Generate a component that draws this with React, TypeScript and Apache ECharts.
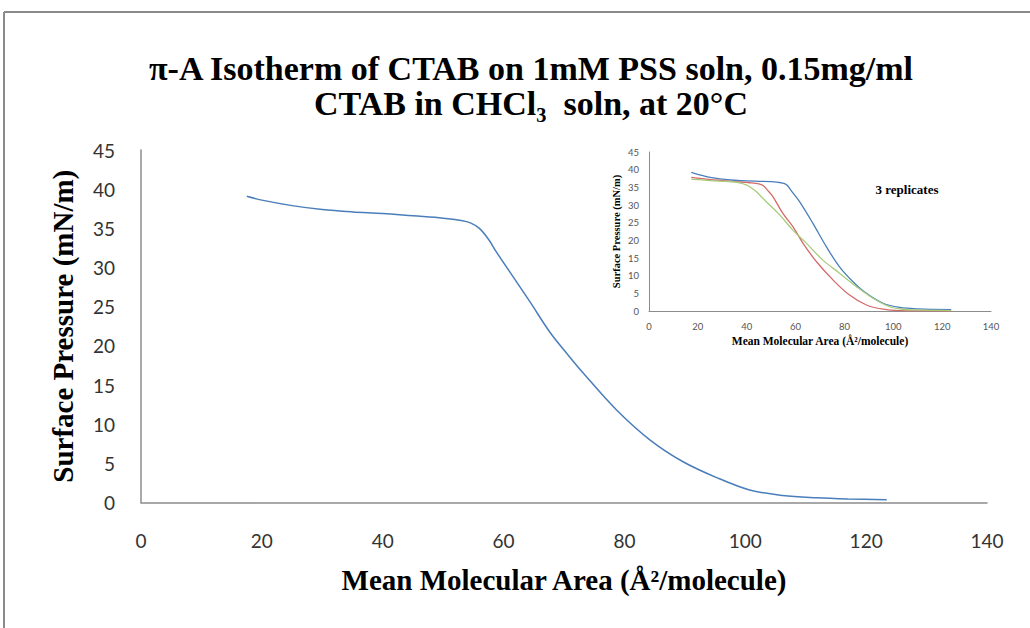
import React, { useEffect, useRef } from "react";
import * as echarts from "echarts";

// Main isotherm (Mean Molecular Area Å²/molecule, Surface Pressure mN/m)
const mainArea = [17.5, 20, 25, 30, 35, 40, 45, 50, 53, 54.5, 56, 57.5, 58.8, 61.5, 64.3, 67.7, 70.5, 73.1, 78.7, 84.2, 89.7, 95.2, 100.7, 106.2, 111.8, 117, 123.4];
const mainPressure = [39.1, 38.6, 37.9, 37.4, 37.1, 36.9, 36.6, 36.3, 36.0, 35.7, 35.0, 33.6, 32.0, 28.9, 25.7, 21.7, 19.0, 16.6, 11.8, 8.0, 5.2, 3.2, 1.6, 0.9, 0.6, 0.45, 0.35];

// Inset: 3 replicates
const rep1Area = [17.3, 20, 25, 30, 35, 40, 45, 50, 54, 56.2, 58.5, 61.7, 67.1, 72.6, 78, 83.5, 89, 95.8, 102.6, 110, 123.7];
const rep1Pressure = [39.2, 38.7, 37.8, 37.3, 37.0, 36.8, 36.7, 36.6, 36.3, 35.8, 33.8, 30.9, 24.8, 18.2, 12.5, 8.3, 5.0, 2.2, 1.0, 0.6, 0.4];
const rep2Area = [17.3, 25, 30, 35, 41.2, 45, 46.7, 48.5, 50.7, 54.8, 58.9, 63, 68.5, 75.3, 82.1, 89, 95.8, 102.6, 110, 123.7];
const rep2Pressure = [37.8, 37.2, 36.9, 36.6, 36.3, 36.0, 35.5, 34.2, 32.4, 27.6, 23.9, 19.2, 14.0, 8.8, 4.5, 1.7, 0.5, 0.1, 0.05, 0.0];
const rep3Area = [17.3, 25, 34.4, 37.5, 39.8, 41.8, 43.9, 48, 53.5, 58.9, 64.4, 71.2, 78, 84.9, 91.7, 98.5, 104, 109.4, 123.7];
const rep3Pressure = [37.3, 36.9, 36.6, 36.2, 35.7, 34.9, 33.8, 30.9, 27.2, 22.9, 19.2, 14.4, 10.7, 6.9, 3.6, 1.2, 0.5, 0.3, 0.1];

const titleLines = ["π-A Isotherm of CTAB on 1mM PSS soln, 0.15mg/ml", "CTAB in CHCl₃  soln, at 20°C"];
const xTitle = "Mean Molecular Area (Å²/molecule)";
const yTitle = "Surface Pressure (mN/m)";
const insetNote = "3 replicates";

const zip = (a: number[], b: number[]) => a.map((v, i) => [v, b[i]]);

const serif = "'Liberation Serif', 'Times New Roman', serif";
const sans = "Lato, 'Open Sans', sans-serif";
const axisGray = "#8c8c8c";

export default function App() {
  const ref = useRef<HTMLDivElement>(null);
  useEffect(() => {
    if (!ref.current) return;
    const chart = echarts.init(ref.current, undefined, { renderer: "svg" });
    const mkX = (gridIndex: number, fs: number, color: string, margin: number, nameSize: number, nameGap: number) => ({
      type: "value",
      gridIndex,
      min: 0,
      max: 140,
      interval: 20,
      name: xTitle,
      nameLocation: "middle",
      nameGap,
      nameTextStyle: { fontFamily: serif, fontWeight: "bold", fontSize: nameSize, color: "#000" },
      axisLine: { show: true, lineStyle: { color: axisGray, width: gridIndex === 0 ? 1.5 : 1 } },
      axisTick: { show: false },
      splitLine: { show: false },
      axisLabel: { fontFamily: sans, fontSize: fs, color, margin },
    });
    const mkY = (gridIndex: number, fs: number, color: string, margin: number, nameSize: number, nameGap: number) => ({
      type: "value",
      gridIndex,
      min: 0,
      max: 45,
      interval: 5,
      name: yTitle,
      nameLocation: "middle",
      nameGap,
      nameTextStyle: { fontFamily: serif, fontWeight: "bold", fontSize: nameSize, color: "#000" },
      axisLine: { show: true, lineStyle: { color: axisGray, width: gridIndex === 0 ? 1.5 : 1 } },
      axisTick: { show: false },
      splitLine: { show: false },
      axisLabel: { fontFamily: sans, fontSize: fs, color, margin },
    });
    const line = (name: string, data: number[][], color: string, xi: number, w: number) => ({
      name,
      type: "line",
      xAxisIndex: xi,
      yAxisIndex: xi,
      data,
      showSymbol: false,
      smooth: 0.35,
      lineStyle: { color, width: w },
      itemStyle: { color },
    });
    chart.setOption({
      animation: false,
      backgroundColor: "#fff",
      title: {
        text: titleLines.join("\n"),
        left: 526,
        top: 46,
        textAlign: "center",
        textStyle: { fontFamily: serif, fontWeight: "bold", fontSize: 34, color: "#000", lineHeight: 35 },
      },
      grid: [
        { left: 141, top: 150, width: 846, height: 352.5 },
        { left: 649, top: 152, width: 342, height: 159 },
      ],
      xAxis: [mkX(0, 19, "#333", 28, 29, 63), mkX(1, 9.5, "#555", 10, 11.5, 24)],
      yAxis: [mkY(0, 19, "#333", 26, 29, 64), mkY(1, 9.5, "#555", 10, 10.5, 27)],
      series: [
        line("CTAB isotherm", zip(mainArea, mainPressure), "#4A7EBB", 0, 1.5),
        line("Replicate 1", zip(rep1Area, rep1Pressure), "#4A7EBB", 1, 1.3),
        line("Replicate 2", zip(rep2Area, rep2Pressure), "#D46A6A", 1, 1.3),
        line("Replicate 3", zip(rep3Area, rep3Pressure), "#A7CC7A", 1, 1.3),
      ],
      graphic: [
        { type: "line", shape: { x1: 4, y1: 12, x2: 1030, y2: 12 }, style: { stroke: "#8a8a8a", lineWidth: 2 } },
        { type: "line", shape: { x1: 4, y1: 12, x2: 4, y2: 628 }, style: { stroke: "#8a8a8a", lineWidth: 2 } },
        {
          type: "text",
          x: 907,
          y: 189,
          style: { text: insetNote, fontFamily: serif, fontWeight: "bold", fontSize: 13, fill: "#000", align: "center", verticalAlign: "middle" },
        },
      ],
    });
    return () => chart.dispose();
  }, []);
  return <div ref={ref} style={{ position: "fixed", left: 0, top: 0, width: 1030, height: 628 }} />;
}
